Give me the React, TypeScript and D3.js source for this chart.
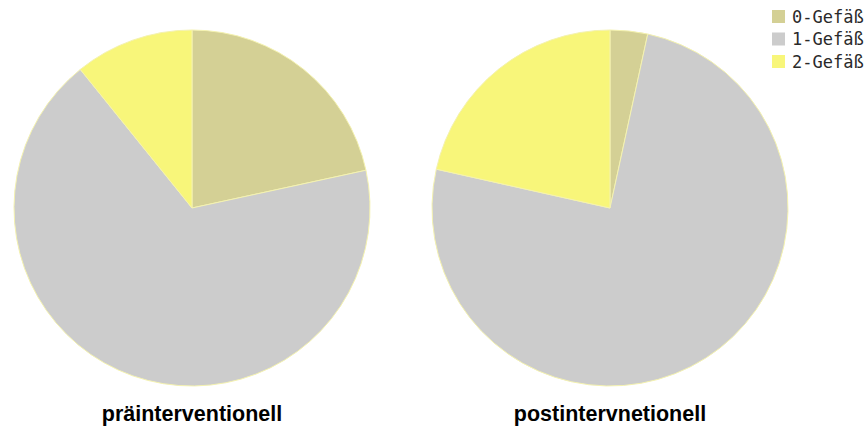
import React from "react";
import * as d3 from "d3";

const categories = ["0-Gefäß", "1-Gefäß", "2-Gefäß"];
const praeValues = [21.6, 67.6, 10.8];
const postValues = [3.4, 75.1, 21.5];
const panelTitles = ["präinterventionell", "postintervnetionell"];
const sliceColors = ["#d4d095", "#cccccc", "#f8f67a"];

const W = 868;
const H = 427;
const R = 178;
const centers = [
  { x: 192, y: 208 },
  { x: 610, y: 208 },
];

function Pie({ values, cx, cy, title }: { values: number[]; cx: number; cy: number; title: string }) {
  const pie = d3.pie<number>().sort(null).value((d) => d);
  const arc = d3.arc<d3.PieArcDatum<number>>().innerRadius(0).outerRadius(R);
  const arcs = pie(values);
  return (
    <g>
      <g transform={`translate(${cx},${cy})`}>
        {arcs.map((a, i) => (
          <path key={i} d={arc(a) || ""} fill={sliceColors[i]} stroke="#f4f2b0" strokeWidth={1} />
        ))}
      </g>
      <text
        x={cx}
        y={421}
        textAnchor="middle"
        fontFamily="'Liberation Sans', Arial, sans-serif"
        fontWeight="bold"
        fontSize={21.5}
        fill="#000"
      >
        {title}
      </text>
    </g>
  );
}

export default function App() {
  return (
    <svg width={W} height={H} style={{ display: "block", position: "absolute", left: 0, top: 0 }}>
      <rect width={W} height={H} fill="#fff" />
      <Pie values={praeValues} cx={centers[0].x} cy={centers[0].y} title={panelTitles[0]} />
      <Pie values={postValues} cx={centers[1].x} cy={centers[1].y} title={panelTitles[1]} />
      <g transform="translate(772,10)">
        {categories.map((c, i) => (
          <g key={c} transform={`translate(0,${i * 22.5})`}>
            <rect x={0} y={0} width={13} height={13} fill={sliceColors[i]} />
            <text
              x={20}
              y={12.5}
              fontFamily="'DejaVu Sans Mono', monospace"
              fontSize={17}
              fill="#2a2a2a"
            >
              {c}
            </text>
          </g>
        ))}
      </g>
    </svg>
  );
}
